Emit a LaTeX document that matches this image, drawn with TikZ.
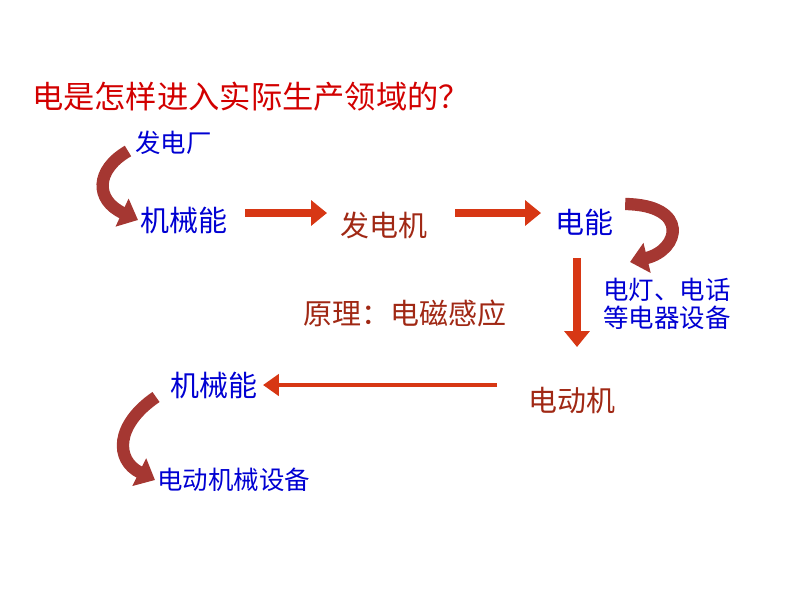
\documentclass[tikz,border=0pt]{standalone}
\usepackage{fontspec}
\setmainfont{Noto Sans CJK SC}
\usetikzlibrary{arrows.meta, positioning}
\definecolor{tblue}{RGB}{0,0,210}
\definecolor{tred}{RGB}{210,0,0}
\definecolor{tdark}{RGB}{160,40,20}
\definecolor{arr}{RGB}{215,55,20}
\definecolor{curv}{RGB}{165,55,50}
\tikzset{
  lbl/.style={font=\fontsize{16.5}{18}\selectfont, inner sep=1pt, anchor=west},
  small/.style={font=\fontsize{14.5}{16}\selectfont},
  blue lbl/.style={lbl, text=tblue},
  dark lbl/.style={lbl, text=tdark},
  block/.style={line width=5pt, draw=arr, -{Triangle[length=9pt, width=14pt]}},
  thin/.style={line width=2.5pt, draw=arr, -{Triangle[length=9pt, width=12pt]}},
  curl/.style={line width=7pt, draw=curv, -{Triangle[length=10pt, width=17pt]}},
}
\begin{document}
\begin{tikzpicture}[x=0.02cm, y=-0.02cm]
    \useasboundingbox (0,0) rectangle (794,596);

    % Texts.
    \node (title) [lbl, text=tred, font=\fontsize{17.8}{19}\selectfont] at (30,97) {电是怎样进入实际生产领域的？};
    \node (plant) [blue lbl, small] at (133,143) {发电厂};
    \node (mech 1) [blue lbl] at (138,220) {机械能};
    \node (gen) [dark lbl] at (338,225) {发电机};
    \node (elec) [blue lbl] at (553,222) {电能};
    \node (lamp) [blue lbl, small, align=left] at (601,304) {电灯、电话\\等电器设备};
    \node (rule) [dark lbl] at (301,313) {原理：电磁感应};
    \node (mech 2) [blue lbl] at (168,385) {机械能};
    \node (motor) [dark lbl] at (526,400) {电动机};
    \node (equip) [blue lbl, small] at (155,480) {电动机械设备};

    % Straight arrows.
    \draw [block] (245,213) -- (327,213);
    \draw [block] (455,213) -- (541,213);
    \draw [block] (577,258) -- (577,347);
    \draw [thin] (497,385) -- (263,385);

    % Curved arrows.
    \draw [curl] (plant.west) ++(-5,8) .. controls (95,170) and (95,200) .. (mech 1.west);
    \draw [curl] (elec.east) ++(10,-18) .. controls (690,205) and (680,250) .. (630,262);
    \draw [curl] (mech 2.west) ++(-12,12) .. controls (115,425) and (115,460) .. (equip.west);
\end{tikzpicture}
\end{document}
